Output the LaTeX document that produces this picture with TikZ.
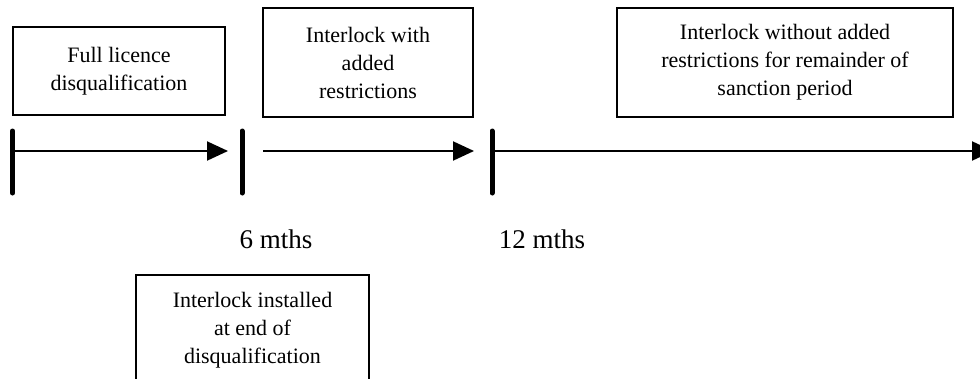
\documentclass[tikz,border=0pt]{standalone}
\usepackage{fontspec}
\setmainfont{Liberation Serif}
\usetikzlibrary{arrows.meta}
\tikzset{
  phasebox/.style={draw, line width=1.6pt, align=center, inner sep=0pt,
    font=\fontsize{22}{28}\selectfont},
  tickbar/.style={line width=5pt, line cap=round},
  timeline/.style={line width=2pt, -{Triangle[length=21pt,width=19pt]}},
  mark label/.style={anchor=base, font=\fontsize{27}{32}\selectfont}
}
\begin{document}
\begin{tikzpicture}[x=1pt,y=-1pt]
  \clip (0,0) rectangle (980,378);
  \fill[white] (0,0) rectangle (980,378);

  % phase boxes above the timeline
  \node[phasebox, minimum width=212pt, minimum height=88pt] (full) at (119,71)
    {Full licence\\disqualification};
  \node[phasebox, minimum width=210pt, minimum height=109pt] (added) at (368,62.5)
    {Interlock with\\added\\restrictions};
  \node[phasebox, minimum width=336pt, minimum height=109pt] (rest) at (785,62.5)
    {Interlock without added\\restrictions for remainder of\\sanction period};

  % box below the timeline, running off the bottom edge
  \node[phasebox, minimum width=233pt, minimum height=110pt] (install) at (252.5,330)
    {Interlock installed\\at end of\\disqualification};

  % tick positions on the timeline
  \coordinate (t0) at (12.5,151);
  \coordinate (t6) at (242,151);
  \coordinate (t12) at (492,151);
  \coordinate (e0) at (228,151);
  \coordinate (s6) at (263,151);
  \coordinate (e6) at (474,151);
  \coordinate (e12) at (993,151);

  % timeline segments
  \draw[timeline] (t0) -- (e0);
  \draw[timeline] (s6) -- (e6);
  \draw[timeline] (t12) -- (e12);

  % thick tick bars (y axis points down, so shifts are in page direction)
  \foreach \t in {t0,t6,t12}
    \draw[tickbar] ([yshift=20pt]\t) -- ([yshift=-42pt]\t);

  % month labels
  \node[mark label] (m6) at (276,248) {6 mths};
  \node[mark label] (m12) at (542,248) {12 mths};
\end{tikzpicture}
\end{document}
